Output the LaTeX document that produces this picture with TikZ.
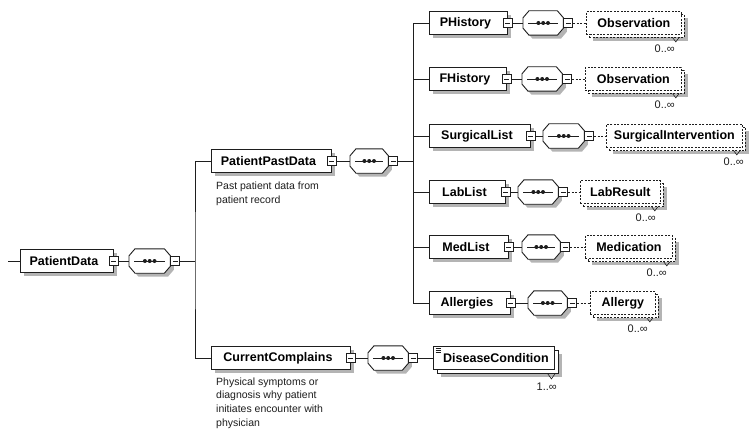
\documentclass[tikz,border=0pt]{standalone}
\usepackage{fontspec}
\setmainfont{Liberation Sans}

\definecolor{linecol}{HTML}{1E1E1E}
\definecolor{shadowgrey}{HTML}{B4B4B4}

\pgfdeclarelayer{bg}
\pgfdeclarelayer{paper}
\pgfsetlayers{paper,bg,main}

\tikzset{
  elfont/.style={font=\bfseries\fontsize{12.5}{15}\selectfont},
  element/.style={elfont, draw=linecol, fill=white, line width=0.9pt,
    minimum height=23pt, inner sep=0pt, anchor=west},
  optfront/.style={element, line width=0.8pt, dash pattern=on 2pt off 1.4pt},
  seqbox/.style={minimum height=24pt, inner sep=0pt, anchor=west},
  seqline/.style={draw=linecol, fill=white, line width=0.9pt},
  minusbox/.style={draw=linecol, fill=white, line width=0.7pt, minimum size=9pt,
    inner sep=0pt,
    path picture={
      \draw[linecol, line width=0.7pt]
        ([xshift=2pt]path picture bounding box.west) --
        ([xshift=-2pt]path picture bounding box.east);
    }},
  conn/.style={draw=linecol, line width=0.9pt},
  optconn/.style={conn, dash pattern=on 2pt off 1.5pt},
  occ/.style={font=\fontsize{11}{12}\selectfont, inner sep=0pt, anchor=east, text=linecol},
  note/.style={font=\fontsize{10.5}{13.6}\selectfont, align=left, inner sep=0pt,
    anchor=north west, text=linecol},
  notch/.style={draw=linecol, line width=0.6pt}
}

% grey drop shadow behind a rectangular node
\newcommand\castshadow[1]{%
  \begin{pgfonlayer}{bg}
    \fill[shadowgrey] ([xshift=3.5pt,yshift=-3.5pt]#1.north west)
      rectangle ([xshift=3.5pt,yshift=-3.5pt]#1.south east);
  \end{pgfonlayer}}

% octagonal sequence compositor drawn around a named placeholder node
\newcommand\seqoutline[1]{%
  \begin{pgfonlayer}{bg}
    \begin{scope}[transform canvas={shift={(3.5pt,-3.5pt)}}]
      \fill[shadowgrey] ([xshift=6pt]#1.north west) -- ([xshift=-6pt]#1.north east)
        -- ([yshift=-7pt]#1.north east) -- ([yshift=7pt]#1.south east)
        -- ([xshift=-6pt]#1.south east) -- ([xshift=6pt]#1.south west)
        -- ([yshift=7pt]#1.south west) -- ([yshift=-7pt]#1.north west) -- cycle;
    \end{scope}
  \end{pgfonlayer}
  \path[seqline] ([xshift=6pt]#1.north west) -- ([xshift=-6pt]#1.north east)
    -- ([yshift=-7pt]#1.north east) -- ([yshift=7pt]#1.south east)
    -- ([xshift=-6pt]#1.south east) -- ([xshift=6pt]#1.south west)
    -- ([yshift=7pt]#1.south west) -- ([yshift=-7pt]#1.north west) -- cycle;
  \draw[linecol, line width=0.9pt] ([xshift=5pt]#1.west) -- ([xshift=-5pt]#1.east);
  \foreach \d in {-4.8,0,4.8}
    \fill[linecol] ([xshift=\d pt]#1.center) circle (2pt);}

\begin{document}
\begin{tikzpicture}[x=1pt,y=-1pt]
\begin{pgfonlayer}{paper}
  \fill[white] (0,0) rectangle (749,433);
\end{pgfonlayer}
\useasboundingbox (0,0) rectangle (749,433);

% ---------- root element and its sequence ----------
\coordinate (stub) at (8,261);
\node[element, minimum width=93pt] (pd) at (20,261) {PatientData\hspace*{6pt}};
\castshadow{pd}
\node[minusbox] (pd-m) at (pd.east) {};
\node[seqbox, minimum width=41pt] (pd-s) at (129,261) {};
\seqoutline{pd-s}
\node[minusbox, anchor=west] (pd-sm) at (pd-s.east) {};
\coordinate (j1) at (195,261);

% ---------- PatientPastData branch ----------
\node[element, minimum width=120pt] (ppd) at (211,161) {PatientPastData\hspace*{6pt}};
\castshadow{ppd}
\node[minusbox] (ppd-m) at (ppd.east) {};
\node[seqbox, minimum width=38pt] (ppd-s) at (350,161) {};
\seqoutline{ppd-s}
\node[minusbox, anchor=west] (ppd-sm) at (ppd-s.east) {};
\coordinate (j2) at (413,161);
\node[note] (ppd-n) at (216,182) {Past patient data from\\patient record};

% ---------- CurrentComplains branch ----------
\node[element, minimum width=139pt] (cc) at (211,358) {CurrentComplains\hspace*{6pt}};
\castshadow{cc}
\node[minusbox] (cc-m) at (cc.east) {};
\node[seqbox, minimum width=40pt] (cc-s) at (368,358) {};
\seqoutline{cc-s}
\node[minusbox, anchor=west] (cc-sm) at (cc-s.east) {};
\node[element, minimum width=121pt] (dc-b) at (437,362) {};
\castshadow{dc-b}
\node[element, minimum width=121pt] (dc) at (433,358) {\hspace*{4pt}DiseaseCondition};
\foreach \k in {0,1.6,3.2}
  \draw[linecol, line width=0.5pt] ([xshift=2.5pt, yshift={-(2.5+\k)*1pt}]dc.north west) -- ++(5,0);
\draw[notch] ([xshift=-11pt]dc-b.south east) -- ++(3.5,5) -- ++(3.5,-5);
\node[occ] (dc-o) at (557,387) {1..∞};
\node[note] (cc-n) at (216,377.5)
  {Physical symptoms or\\diagnosis why patient\\initiates encounter with\\physician};

% ---------- children of PatientPastData ----------
\foreach \n/\t/\y/\bw/\sx/\sw/\cx/\cw/\ct/\lx in {
    ph/PHistory/23/78/523/40/586/95/Observation/675,
    fh/FHistory/79/77/522/40/585/96/Observation/675,
    sl/SurgicalList/136/101/543/41/606/136/SurgicalIntervention/744,
    ll/LabList/192/76/518/40/580/80/LabResult/656,
    ml/MedList/247/79/522/38/585/87/Medication/667,
    al/Allergies/303/81/528/39/590/65/Allergy/648}{
  \node[element, minimum width=\bw pt] (\n) at (429,\y) {\t\hspace*{6pt}};
  \castshadow{\n}
  \node[minusbox] (\n-m) at (\n.east) {};
  \node[seqbox, minimum width=\sw pt] (\n-s) at (\sx,\y) {};
  \seqoutline{\n-s}
  \node[minusbox, anchor=west] (\n-sm) at (\n-s.east) {};
  \node[optfront, minimum width=\cw pt] (\n-cb) at (\cx+3,\y+3) {};
  \castshadow{\n-cb}
  \node[optfront, minimum width=\cw pt] (\n-c) at (\cx,\y) {\ct};
  \draw[notch] ([xshift=-12pt]\n-cb.south east) -- ++(3,4) -- ++(3,-4);
  \node[occ] (\n-o) at (\lx,\y+25.5) {0..∞};
  \draw[conn] (\n-m.east) -- (\n-s.west);
  \draw[optconn] (\n-sm.east) -- (\n-c.west);
  \draw[conn] (\n.west) -| (j2);
}

% ---------- connectors ----------
\draw[conn] (stub) -- (pd.west);
\draw[conn] (pd-m.east) -- (pd-s.west);
\draw[conn] (pd-sm.east) -- (j1);
\draw[conn] (ppd.west) -| (j1) |- (cc.west);
\draw[conn] (ppd-m.east) -- (ppd-s.west);
\draw[conn] (ppd-sm.east) -- (j2);
\draw[conn] (cc-m.east) -- (cc-s.west);
\draw[conn] (cc-sm.east) -- (dc.west);
\end{tikzpicture}
\end{document}
